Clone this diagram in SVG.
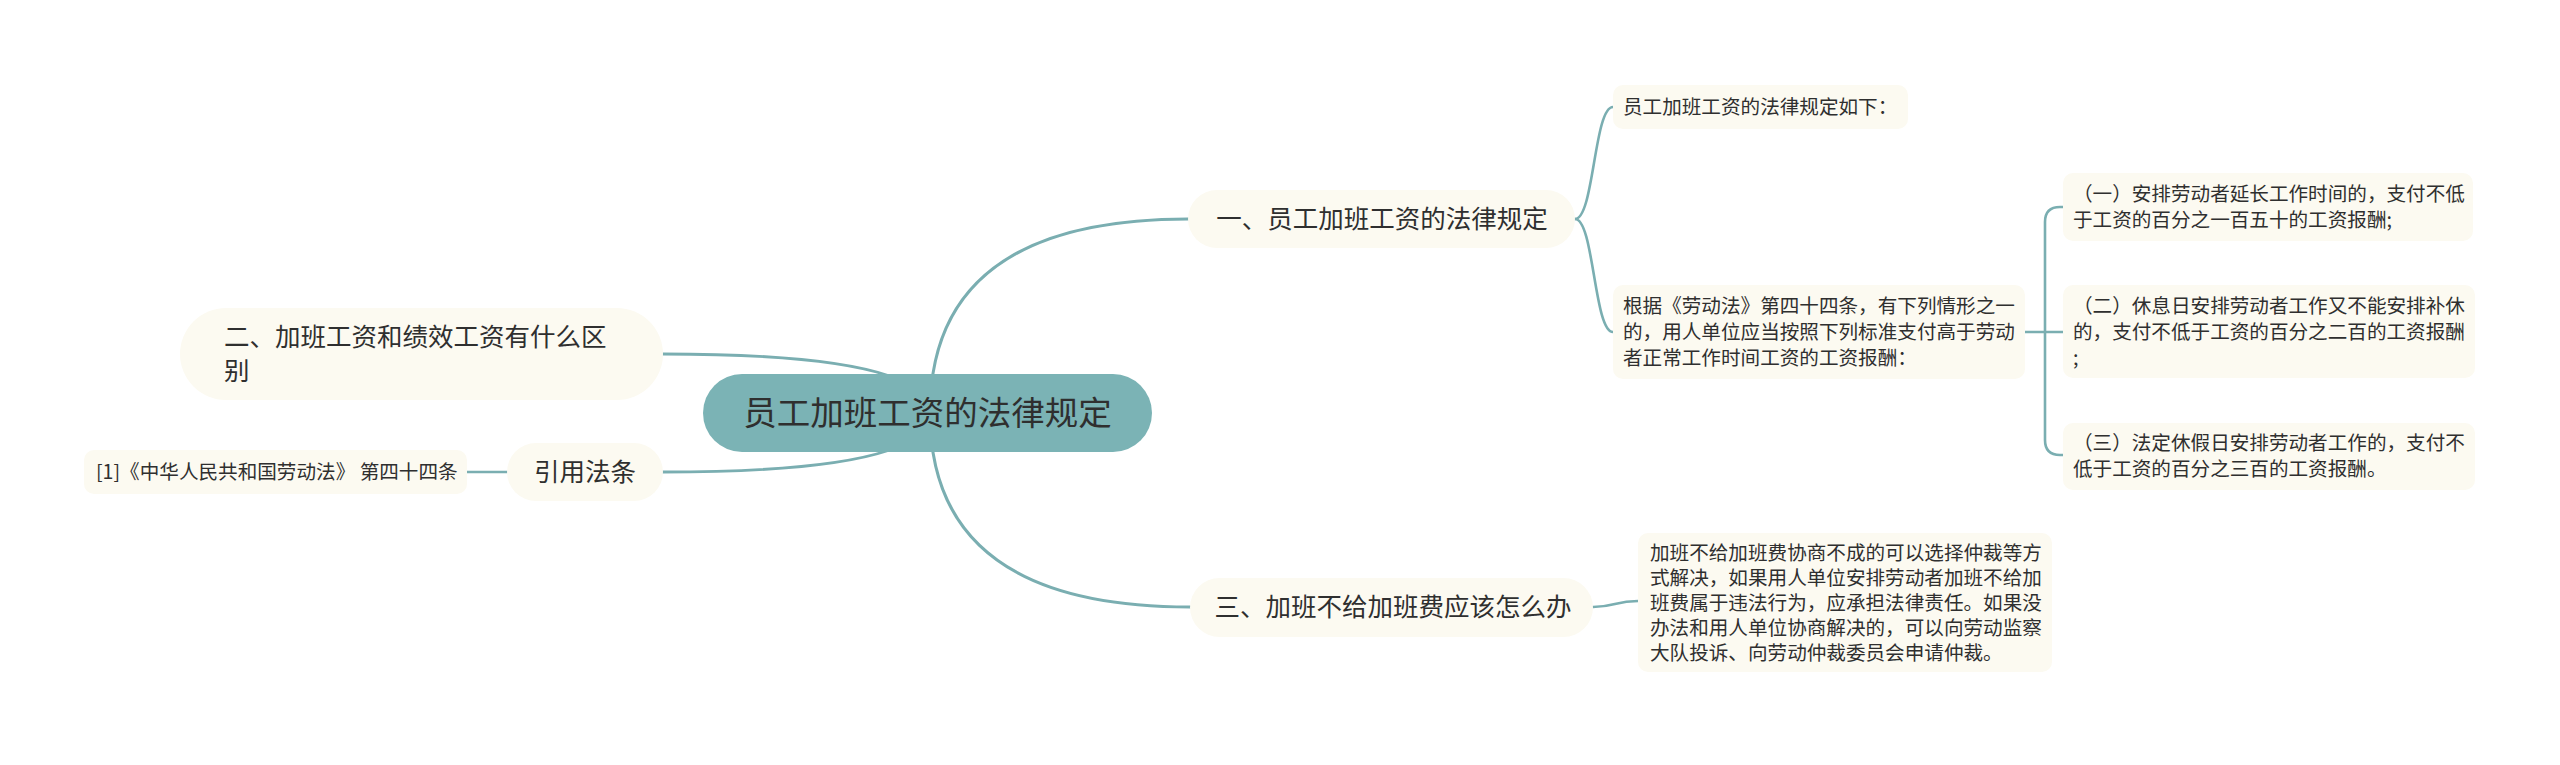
<svg xmlns="http://www.w3.org/2000/svg" width="2560" height="765" viewBox="0 0 2560 765">
<style>
text{font-family:"Noto Sans CJK SC","Noto Sans",sans-serif;fill:#2f2f2f}
.c{fill:none;stroke:#7aaeb1;stroke-width:3;stroke-linecap:round}
.c2{fill:none;stroke:#7aaeb1;stroke-width:2.6;stroke-linecap:round}
.root{fill:#7bb3b5}
.n1{fill:#fcfaf1}
.n2{fill:#fcfaf1}
.t0{font-size:33.5px}
.t1{font-size:25.5px}
.t2{font-size:19.6px}
</style>
<rect width="2560" height="765" fill="#ffffff"/>
<g id="connectors">
<path class="c" d="M930,413 Q930,219 1188,219"/>
<path class="c" d="M930,413 Q930,607 1190,607"/>
<path class="c" d="M930,413 Q930,354 663,354"/>
<path class="c" d="M930,413 Q930,472 663,472"/>
<path class="c2" d="M467,472 L507,472"/>
<path class="c2" d="M1575,219 C1594,219 1594,107 1613,107"/>
<path class="c2" d="M1575,219 C1594,219 1594,332 1613,332"/>
<path class="c2" d="M2025,332 L2063,332"/>
<path class="c2" d="M2045,332 V222 Q2045,207 2060,207 H2063"/>
<path class="c2" d="M2045,332 V440 Q2045,455 2060,455 H2063"/>
<path class="c2" d="M1593,607 C1615,607 1615,601 1638,601"/>
</g>
<g id="root">
<rect class="root" x="703" y="374" width="449" height="78" rx="39"/>
<text class="t0" x="927.5" y="425" text-anchor="middle">员工加班工资的法律规定</text>
</g>
<g id="n1">
<rect class="n1" x="1188" y="190" width="387" height="58" rx="29"/>
<text class="t1" x="1382" y="228" text-anchor="middle">一、员工加班工资的法律规定</text>
</g>
<g id="n2">
<rect class="n1" x="180" y="308" width="483" height="92" rx="46"/>
<text class="t1" x="224" y="346">二、加班工资和绩效工资有什么区</text>
<text class="t1" x="224" y="380">别</text>
</g>
<g id="n3">
<rect class="n1" x="1190" y="578" width="403" height="59" rx="29.5"/>
<text class="t1" x="1393" y="616" text-anchor="middle">三、加班不给加班费应该怎么办</text>
</g>
<g id="n4">
<rect class="n1" x="507" y="443" width="156" height="58" rx="29"/>
<text class="t1" x="585" y="481" text-anchor="middle">引用法条</text>
</g>
<g id="n4a">
<rect class="n2" x="84" y="450" width="383" height="44" rx="10"/>
<text class="t2" x="96" y="479">[1]《中华人民共和国劳动法》 第四十四条</text>
</g>
<g id="n1a">
<rect class="n2" x="1613" y="85" width="295" height="44" rx="10"/>
<text class="t2" x="1623" y="114">员工加班工资的法律规定如下：</text>
</g>
<g id="n1b">
<rect class="n2" x="1613" y="285" width="412" height="94" rx="10"/>
<text class="t2" x="1623" y="313">根据《劳动法》第四十四条，有下列情形之一</text>
<text class="t2" x="1623" y="339">的，用人单位应当按照下列标准支付高于劳动</text>
<text class="t2" x="1623" y="365">者正常工作时间工资的工资报酬：</text>
</g>
<g id="n1b1">
<rect class="n2" x="2063" y="173" width="410" height="68" rx="10"/>
<text class="t2" x="2073" y="201">（一）安排劳动者延长工作时间的，支付不低</text>
<text class="t2" x="2073" y="227">于工资的百分之一百五十的工资报酬;</text>
</g>
<g id="n1b2">
<rect class="n2" x="2063" y="285" width="412" height="93" rx="10"/>
<text class="t2" x="2073" y="313">（二）休息日安排劳动者工作又不能安排补休</text>
<text class="t2" x="2073" y="339">的，支付不低于工资的百分之二百的工资报酬</text>
<text class="t2" x="2073" y="365">;</text>
</g>
<g id="n1b3">
<rect class="n2" x="2063" y="423" width="412" height="67" rx="10"/>
<text class="t2" x="2073" y="450">（三）法定休假日安排劳动者工作的，支付不</text>
<text class="t2" x="2073" y="476">低于工资的百分之三百的工资报酬。</text>
</g>
<g id="n3a">
<rect class="n2" x="1638" y="533" width="414" height="139" rx="10"/>
<text class="t2" x="1650" y="560">加班不给加班费协商不成的可以选择仲裁等方</text>
<text class="t2" x="1650" y="585">式解决，如果用人单位安排劳动者加班不给加</text>
<text class="t2" x="1650" y="610">班费属于违法行为，应承担法律责任。如果没</text>
<text class="t2" x="1650" y="635">办法和用人单位协商解决的，可以向劳动监察</text>
<text class="t2" x="1650" y="660">大队投诉、向劳动仲裁委员会申请仲裁。</text>
</g>
</svg>
